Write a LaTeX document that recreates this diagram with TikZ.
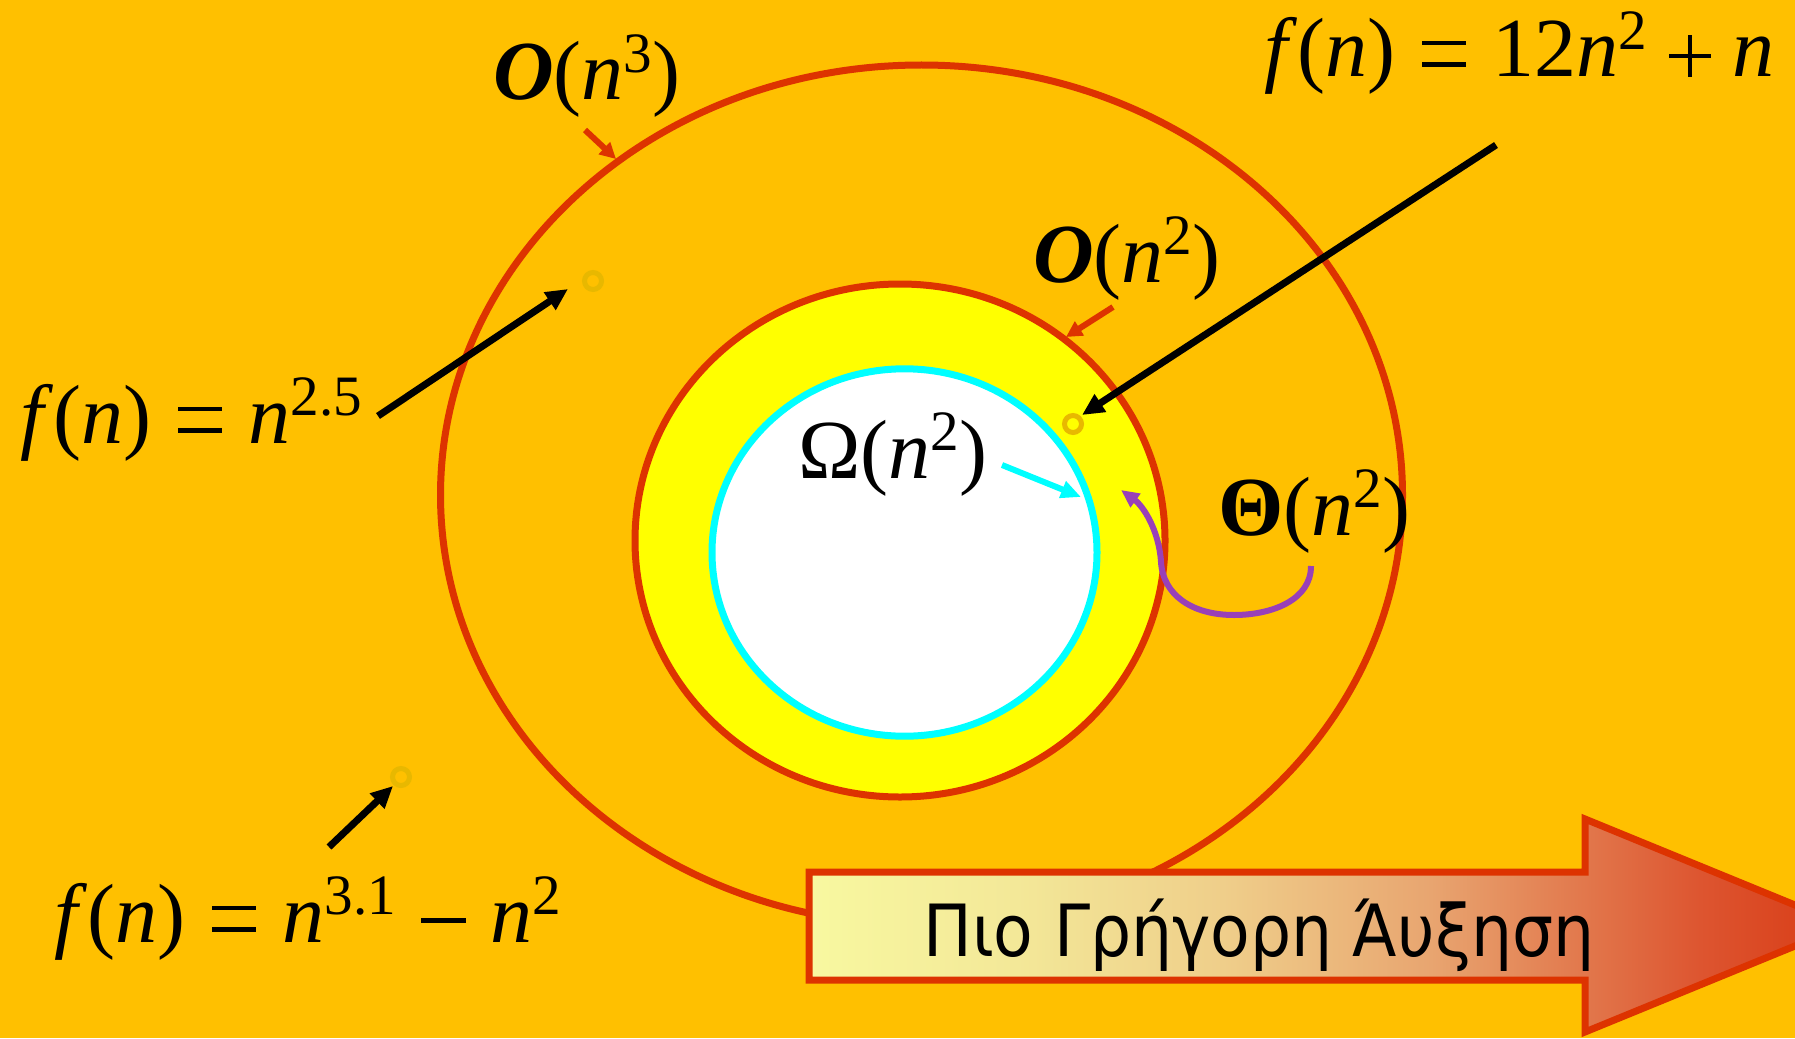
\documentclass[tikz,border=0pt]{standalone}
\usepackage{fontspec}
\usepackage{graphicx}
\setmainfont{Liberation Serif}
\newfontfamily\grfont{DejaVu Sans Condensed}
\usetikzlibrary{arrows.meta}
\definecolor{bg}{HTML}{FFC000}
\definecolor{redl}{HTML}{DD3300}
\definecolor{yel}{HTML}{FFFF00}
\definecolor{cyanl}{HTML}{00FFFF}
\definecolor{purp}{HTML}{9940B8}
\definecolor{ringc}{HTML}{E8B800}
\definecolor{sA}{HTML}{F8F8A0}
\definecolor{sB}{HTML}{F3E898}
\definecolor{sC}{HTML}{EFCE8A}
\definecolor{sD}{HTML}{E8A570}
\definecolor{sE}{HTML}{E27A4E}
\definecolor{sF}{HTML}{DD5530}
\definecolor{sG}{HTML}{D83A14}
\pgfdeclarehorizontalshading{arrowsh}{100bp}{color(0bp)=(sA); color(25bp)=(sA); color(35bp)=(sB); color(45bp)=(sC); color(55bp)=(sD); color(62bp)=(sE); color(68bp)=(sF); color(75bp)=(sG); color(100bp)=(sG)}
\newcommand\sups[1]{\raisebox{0.33em}{\scalebox{0.68}{#1}}}
\newcommand\iv[1]{\textit{#1}}
\newcommand\eqs{\hspace{0.32em}\rlap{\rule[0.118em]{0.52em}{0.055em}}\rule[0.378em]{0.52em}{0.055em}\hspace{0.32em}}
\newcommand\pls{\hspace{0.26em}\rlap{\rule[0.2225em]{0.5em}{0.055em}}\hspace{0.2225em}\rule{0.055em}{0.5em}\hspace{0.2225em}\hspace{0.26em}}
\newcommand\mns{\hspace{0.3em}\rule[0.228em]{0.53em}{0.055em}\hspace{0.3em}}
\tikzset{
  ell/.style={draw=redl, line width=7pt},
  blk/.style={draw=black, line width=7pt, -{Triangle[length=22pt,width=20pt]}},
  redarr/.style={draw=redl, line width=6pt, -{Triangle[length=16pt,width=16pt]}},
  cyarr/.style={draw=cyanl, line width=6pt, -{Triangle[length=20pt,width=17pt]}},
  purarr/.style={draw=purp, line width=6pt, -{Triangle[length=18pt,width=16pt]}},
  ring/.style={circle, draw=ringc, line width=5pt, minimum size=17pt, inner sep=0pt},
  lbl/.style={anchor=base west, inner sep=0pt, font=\fontsize{84}{100}\selectfont},
}
\begin{document}
\begin{tikzpicture}[x=1pt,y=-1pt]
\useasboundingbox (0,0) rectangle (1795,1038);
\clip (0,0) rectangle (1795,1038);
\fill[bg] (0,0) rectangle (1795,1038);
% ellipses
\draw[ell] (921.5,495) ellipse [x radius=481, y radius=430];
\draw[ell, fill=yel] (900,540.5) ellipse [x radius=265, y radius=256.5];
\draw[draw=cyanl, line width=7pt, fill=white] (904.5,552.5) ellipse [x radius=192.5, y radius=183.7];
% rings
\node[ring] (r1) at (593,281) {};
\node[ring] (r2) at (1073,424) {};
\node[ring] (r3) at (401,777) {};
% labels
\node[lbl] (lOn3) at (493,100) {\textbf{\textit{O}}(\iv{n}\sups{3})};
\node[lbl] (lf12) at (1264,77) {\iv{f}\/(\iv{n})\eqs 12\iv{n}\sups{2}\pls\iv{n}};
\node[lbl] (lOn2) at (1033,282) {\textbf{\textit{O}}(\iv{n}\sups{2})};
\node[lbl] (lf25) at (20,443) {\iv{f}\/(\iv{n})\eqs\iv{n}\sups{2.5}};
\node[lbl] (lOm) at (798,478) {Ω(\iv{n}\sups{2})};
\node[lbl] (lTh) at (1218,535) {\textbf{Θ}(\iv{n}\sups{2})};
\node[lbl] (lf31) at (54,942) {\iv{f}\/(\iv{n})\eqs\iv{n}\sups{3.1}\mns\iv{n}\sups{2}};
% connector end points
\coordinate (a1s) at (378,416);  \coordinate (a1e) at (568,289);
\coordinate (a2s) at (1496,145); \coordinate (a2e) at (1082,415);
\coordinate (a3s) at (329,847);  \coordinate (a3e) at (393,786);
\coordinate (b1s) at (585,130);  \coordinate (b1e) at (616,159);
\coordinate (b2s) at (1113,307); \coordinate (b2e) at (1066,337);
\coordinate (c1s) at (1002,465); \coordinate (c1e) at (1081,497);
\coordinate (p1s) at (1311,566); \coordinate (p1e) at (1121,490);
% connectors
\draw[blk] (a1s) -- (a1e);
\draw[blk] (a2s) -- (a2e);
\draw[blk] (a3s) -- (a3e);
\draw[redarr] (b1s) -- (b1e);
\draw[redarr] (b2s) -- (b2e);
\draw[cyarr] (c1s) -- (c1e);
\draw[purarr] (p1s) .. controls (1311,600) and (1272,615) .. (1234,615)
   .. controls (1192,615) and (1163,595) .. (1161,562)
   .. controls (1159,530) and (1143,506) .. (p1e);
% big arrow
\path[shading=arrowsh, draw=redl, line width=7pt, line join=miter]
  (809,872) -- (1585,872) -- (1585,819) -- (1845,925.5) -- (1585,1032)
  -- (1585,980) -- (809,980) -- cycle;
\node[anchor=base, inner sep=0pt, font=\grfont\fontsize{72}{80}\selectfont] (gtxt) at (1259,956) {Πιο Γρήγορη Άυξηση};
\end{tikzpicture}
\end{document}
